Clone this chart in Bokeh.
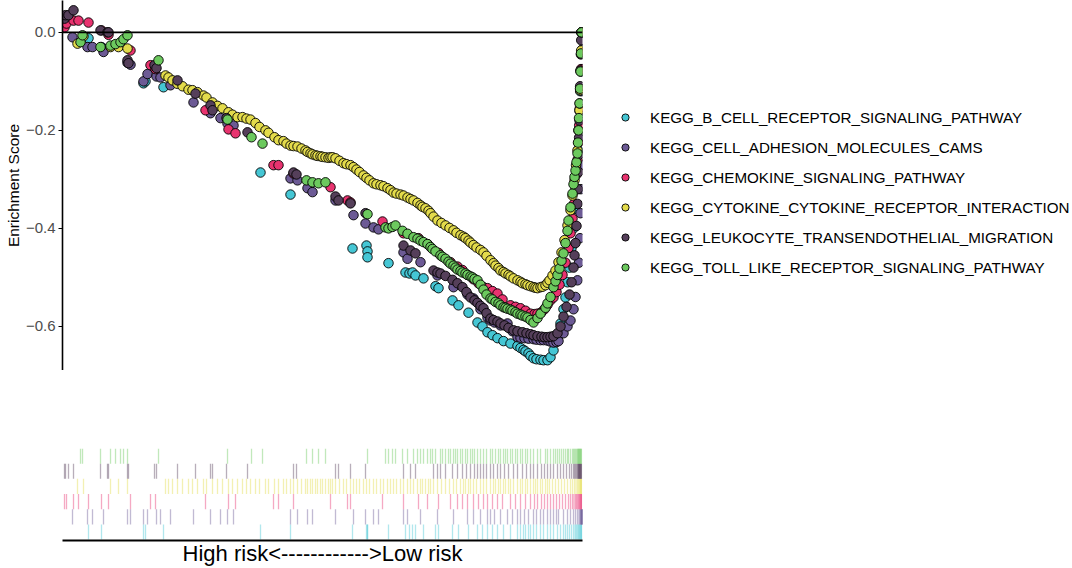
from bokeh.plotting import figure
from bokeh.models import Range1d, Span, Legend, LegendItem, FixedTicker
from bokeh.layouts import column, row
from bokeh.embed import file_html
from bokeh.resources import INLINE

FONT = "Liberation Sans"

pathways = [
    "KEGG_B_CELL_RECEPTOR_SIGNALING_PATHWAY",
    "KEGG_CELL_ADHESION_MOLECULES_CAMS",
    "KEGG_CHEMOKINE_SIGNALING_PATHWAY",
    "KEGG_CYTOKINE_CYTOKINE_RECEPTOR_INTERACTION",
    "KEGG_LEUKOCYTE_TRANSENDOTHELIAL_MIGRATION",
    "KEGG_TOLL_LIKE_RECEPTOR_SIGNALING_PATHWAY",
]
colors = ["#45C6D4", "#6C5A95", "#E8336F", "#E3DB4B", "#553F5A", "#6CC95E"]

# (rank position of hit, running enrichment score)
b_cell = [(26,-0.012),(39,-0.030),(81,-0.104),(83,-0.100),(101,-0.112),(198,-0.286),(228,-0.331),(290,-0.441),(304,-0.435),(305,-0.447),(305,-0.459),(326,-0.471),(343,-0.490),(347,-0.492),(350,-0.490),(353,-0.496),(361,-0.502),(373,-0.518),(376,-0.522),(390,-0.547),(396,-0.557),(406,-0.572),(415,-0.592),(420,-0.600),(425,-0.612),(430,-0.618),(435,-0.624),(441,-0.630),(448,-0.635),(455,-0.640),(458,-0.644),(461,-0.648),(463,-0.651),(466,-0.655),(468,-0.660),(471,-0.665),(474,-0.667),(478,-0.668),(481,-0.669),(485,-0.669),(488,-0.663),(491,-0.649),(495,-0.625),(498,-0.594),(501,-0.565),(503,-0.541),(505,-0.510),(507,-0.480),(509,-0.440),(511,-0.400),(512.5,-0.360),(513.5,-0.320),(514.5,-0.280),(515.5,-0.240),(516.3,-0.200),(517,-0.160),(517.7,-0.120),(518.3,-0.080),(518.8,-0.040),(519.2,0.000)]

cams = [(10,-0.010),(25,-0.030),(30,-0.030),(41,-0.040),(65,-0.062),(68,-0.066),(81,-0.100),(85,-0.085),(94,-0.090),(98,-0.092),(108,-0.108),(131,-0.143),(148,-0.165),(158,-0.175),(165,-0.186),(171,-0.190),(228,-0.298),(235,-0.302),(245,-0.318),(250,-0.326),(273,-0.343),(291,-0.373),(303,-0.390),(311,-0.398),(316,-0.402),(341,-0.449),(345,-0.462),(358,-0.469),(375,-0.496),(391,-0.520),(405,-0.535),(411,-0.543),(418,-0.565),(425,-0.582),(428,-0.588),(432,-0.592),(438,-0.598),(445,-0.594),(450,-0.610),(455,-0.622),(458,-0.623),(462,-0.624),(466,-0.625),(471,-0.626),(474,-0.627),(478,-0.628),(481,-0.628),(485,-0.629),(488,-0.631),(491,-0.633),(494,-0.632),(496,-0.630),(501,-0.614),(505,-0.600),(508,-0.588),(511,-0.565),(513,-0.540),(515,-0.506),(516.5,-0.470),(517.5,-0.420),(518,-0.369),(518.4,-0.320),(518.8,-0.270),(519.2,-0.220),(519.5,-0.170),(519.7,-0.120),(519.8,-0.075),(519.9,-0.035),(520,0.000)]

chemokine = [(2,0.010),(4,0.018),(11,0.024),(16,0.024),(26,0.020),(39,0.004),(46,-0.005),(68,-0.037),(88,-0.067),(93,-0.075),(143,-0.159),(166,-0.198),(173,-0.206),(211,-0.271),(216,-0.271),(231,-0.288),(268,-0.316),(285,-0.343),(288,-0.347),(320,-0.386),(341,-0.410),(356,-0.420),(365,-0.432),(376,-0.450),(388,-0.469),(395,-0.478),(400,-0.485),(405,-0.495),(411,-0.504),(416,-0.512),(421,-0.520),(425,-0.522),(430,-0.528),(435,-0.533),(440,-0.545),(448,-0.557),(453,-0.560),(458,-0.563),(463,-0.568),(468,-0.574),(472,-0.575),(475,-0.574),(479,-0.571),(482,-0.565),(485,-0.556),(488,-0.547),(491,-0.541),(494,-0.530),(497,-0.515),(500,-0.495),(503,-0.470),(506,-0.440),(508,-0.410),(510,-0.380),(511.5,-0.350),(513,-0.320),(514,-0.290),(515,-0.260),(516,-0.225),(516.7,-0.190),(517.3,-0.155),(518,-0.115),(518.5,-0.075),(518.8,-0.040),(519,0.000)]

cytokine = [(15,-0.023),(21,-0.008),(48,-0.030),(56,-0.030),(65,-0.033),(103,-0.088),(106,-0.092),(110,-0.098),(115,-0.105),(120,-0.110),(126,-0.117),(130,-0.118),(135,-0.122),(141,-0.129),(144,-0.133),(150,-0.143),(155,-0.150),(160,-0.155),(166,-0.163),(170,-0.168),(175,-0.173),(180,-0.173),(184,-0.176),(188,-0.178),(193,-0.185),(197,-0.193),(203,-0.200),(206,-0.205),(212,-0.214),(216,-0.220),(221,-0.222),(224,-0.227),(228,-0.231),(231,-0.232),(235,-0.233),(239,-0.237),(243,-0.241),(245,-0.244),(248,-0.247),(250,-0.249),(253,-0.251),(255,-0.252),(258,-0.253),(260,-0.254),(263,-0.255),(266,-0.256),(268,-0.255),(270,-0.255),(273,-0.257),(277,-0.262),(281,-0.267),(284,-0.269),(288,-0.271),(291,-0.275),(294,-0.280),(297,-0.285),(301,-0.292),(304,-0.297),(307,-0.302),(311,-0.308),(314,-0.310),(318,-0.312),(321,-0.314),(325,-0.318),(328,-0.322),(331,-0.327),(334,-0.329),(338,-0.331),(341,-0.333),(345,-0.337),(348,-0.340),(351,-0.343),(355,-0.348),(358,-0.353),(360,-0.356),(363,-0.359),(366,-0.364),(368,-0.369),(371,-0.376),(375,-0.384),(379,-0.389),(383,-0.394),(387,-0.399),(391,-0.404),(394,-0.409),(398,-0.414),(401,-0.417),(403,-0.420),(406,-0.425),(408,-0.429),(411,-0.434),(414,-0.439),(418,-0.444),(421,-0.449),(424,-0.456),(428,-0.465),(431,-0.471),(433,-0.476),(436,-0.481),(438,-0.486),(441,-0.489),(443,-0.492),(446,-0.495),(448,-0.498),(451,-0.502),(455,-0.506),(458,-0.509),(460,-0.512),(463,-0.514),(465,-0.516),(468,-0.518),(471,-0.520),(473,-0.521),(475,-0.522),(478,-0.520),(480,-0.519),(483,-0.516),(485,-0.511),(487,-0.506),(490,-0.496),(493,-0.486),(496,-0.469),(499,-0.449),(502,-0.424),(505,-0.394),(508,-0.363),(510,-0.333),(512,-0.302),(513.5,-0.271),(515,-0.241),(516,-0.200),(517,-0.159),(517.7,-0.118),(518.3,-0.078),(518.7,-0.037),(519,0.000)]

leukocyte = [(2,0.028),(3,0.035),(6,0.035),(11,0.045),(38,0.004),(45,0.000),(46,0.000),(65,-0.057),(66,-0.063),(92,-0.067),(94,-0.073),(115,-0.098),(133,-0.125),(148,-0.149),(150,-0.159),(164,-0.175),(185,-0.204),(231,-0.286),(234,-0.290),(273,-0.335),(276,-0.343),(288,-0.349),(303,-0.369),(341,-0.435),(348,-0.445),(353,-0.451),(371,-0.486),(375,-0.490),(378,-0.492),(383,-0.497),(390,-0.505),(395,-0.512),(400,-0.520),(404,-0.530),(408,-0.541),(412,-0.547),(415,-0.552),(418,-0.558),(421,-0.563),(424,-0.573),(428,-0.584),(431,-0.587),(435,-0.590),(438,-0.594),(442,-0.598),(446,-0.603),(451,-0.608),(455,-0.610),(460,-0.612),(464,-0.614),(468,-0.616),(471,-0.618),(475,-0.620),(479,-0.621),(482,-0.622),(485,-0.622),(488,-0.621),(491,-0.620),(495,-0.614),(498,-0.600),(501,-0.580),(504,-0.560),(507,-0.535),(509,-0.510),(511,-0.480),(512,-0.455),(513,-0.430),(514,-0.395),(515,-0.350),(515.5,-0.320),(516,-0.285),(516.3,-0.250),(516.6,-0.215),(517,-0.180),(517.3,-0.145),(517.6,-0.110),(518,-0.078),(518.4,-0.045),(518.7,-0.016),(519,0.000)]

toll = [(18,-0.020),(20,-0.006),(38,-0.030),(48,-0.027),(53,-0.024),(58,-0.020),(61,-0.014),(65,-0.006),(96,-0.057),(165,-0.178),(189,-0.214),(200,-0.227),(244,-0.302),(250,-0.306),(256,-0.308),(263,-0.306),(305,-0.371),(323,-0.398),(326,-0.400),(330,-0.397),(333,-0.394),(340,-0.405),(345,-0.411),(351,-0.418),(355,-0.421),(358,-0.425),(361,-0.428),(365,-0.432),(368,-0.438),(370,-0.442),(373,-0.447),(378,-0.455),(380,-0.458),(383,-0.462),(386,-0.468),(388,-0.472),(391,-0.476),(393,-0.480),(395,-0.484),(398,-0.487),(400,-0.490),(403,-0.492),(405,-0.495),(408,-0.498),(410,-0.500),(412,-0.503),(415,-0.506),(418,-0.515),(421,-0.525),(424,-0.535),(428,-0.543),(430,-0.545),(433,-0.550),(436,-0.553),(438,-0.557),(441,-0.561),(443,-0.562),(445,-0.564),(448,-0.566),(450,-0.568),(453,-0.571),(455,-0.574),(458,-0.576),(460,-0.578),(463,-0.580),(465,-0.582),(468,-0.587),(471,-0.592),(475,-0.583),(478,-0.574),(483,-0.562),(485,-0.553),(488,-0.540),(491,-0.520),(493,-0.508),(495,-0.495),(497,-0.482),(499,-0.466),(501,-0.451),(503,-0.430),(505,-0.405),(506,-0.384),(508,-0.357),(510,-0.329),(511,-0.310),(512,-0.295),(513,-0.282),(514,-0.265),(515,-0.247),(515.5,-0.225),(516,-0.200),(516.5,-0.175),(517,-0.145),(517.5,-0.115),(518,-0.080),(518.5,-0.043),(519,0.000)]

series = [b_cell, cams, chemokine, cytokine, leukocyte, toll]

y_ticks = [0.0, -0.2, -0.4, -0.6]
y_tick_labels = ["0.0", "\u22120.2", "\u22120.4", "\u22120.6"]
x_label = "High risk<------------>Low risk"
y_label = "Enrichment Score"

x_range = Range1d(0, 520)
LEFT, RIGHT, FRAME_W = 62, 2, 520
FIG_W = LEFT + FRAME_W + RIGHT
TOP_H = 370

DOT = dict(marker="circle", size=9.5, line_color="black", line_width=0.9)

# ---------------- top panel: running enrichment score ----------------
top = figure(width=FIG_W, height=TOP_H, x_range=x_range, y_range=Range1d(-0.690, 0.065),
             output_backend="svg", toolbar_location=None, x_axis_location=None,
             min_border_left=LEFT, min_border_right=RIGHT, min_border_top=0, min_border_bottom=0)
top.outline_line_color = None
top.xgrid.visible = False
top.ygrid.visible = False

ya = top.yaxis[0]
ya.ticker = FixedTicker(ticks=y_ticks)
ya.major_label_overrides = {t: l for t, l in zip(y_ticks, y_tick_labels)}
ya.major_label_text_font = FONT
ya.major_label_text_font_size = "15px"
ya.major_label_text_color = "#4D4D4D"
ya.major_label_standoff = 3
ya.major_tick_out = 4
ya.major_tick_in = 0
ya.minor_tick_out = 0
ya.minor_tick_in = 0
ya.axis_line_width = 1.6
ya.major_tick_line_width = 1.2
ya.axis_label = y_label
ya.axis_label_text_font = FONT
ya.axis_label_text_font_size = "15.5px"
ya.axis_label_text_font_style = "normal"
ya.axis_label_text_color = "black"
ya.axis_label_standoff = 1

top.add_layout(Span(location=0, dimension="width", line_color="black", line_width=1.6))

for data, col in zip(series, colors):
    xs = [p[0] for p in data]
    ys = [p[1] for p in data]
    top.scatter(xs, ys, fill_color=col, **DOT)

# ---------------- bottom panel: hit positions (rug) ----------------
rug = figure(width=FIG_W, height=568 - TOP_H, x_range=x_range, y_range=Range1d(-0.06, 6),
             output_backend="svg", toolbar_location=None, y_axis_location=None,
             min_border_left=LEFT, min_border_right=RIGHT, min_border_top=78, min_border_bottom=0)
rug.outline_line_color = None
rug.xgrid.visible = False
rug.ygrid.visible = False

for i, (data, col) in enumerate(zip(series, colors)):
    xs = [p[0] for p in data]
    rug.segment(x0=xs, y0=[i] * len(xs), x1=xs, y1=[i + 1] * len(xs),
                line_color=col, line_alpha=0.42, line_width=1.3)

xa = rug.xaxis[0]
xa.ticker = FixedTicker(ticks=[])
xa.major_tick_out = 0
xa.major_tick_in = 0
xa.minor_tick_out = 0
xa.minor_tick_in = 0
xa.major_label_standoff = 0
xa.axis_line_width = 2
xa.axis_label = x_label
xa.axis_label_text_font = FONT
xa.axis_label_text_font_size = "22px"
xa.axis_label_text_font_style = "normal"
xa.axis_label_text_color = "black"
xa.axis_label_standoff = 0

# ---------------- legend panel (keys drawn from the same series, kept out of view) ----------------
LEG_W = 1072 - FIG_W
leg = figure(width=LEG_W, height=TOP_H, x_range=Range1d(-2, -1), y_range=Range1d(0, 1),
             output_backend="svg", toolbar_location=None,
             x_axis_location=None, y_axis_location=None,
             min_border_left=0, min_border_right=0, min_border_top=0, min_border_bottom=0)
leg.outline_line_color = None
leg.xgrid.visible = False
leg.ygrid.visible = False

leg_renderers = []
for data, col in zip(series, colors):
    xs = [p[0] for p in data]
    ys = [p[1] for p in data]
    leg_renderers.append(leg.scatter(xs, ys, fill_color=col, **DOT))

legend = Legend(items=[LegendItem(label=n, renderers=[r]) for n, r in zip(pathways, leg_renderers)],
                location=(31, 93), margin=0, padding=10, spacing=10,
                glyph_width=20, glyph_height=18, label_height=20, label_standoff=15,
                label_text_font=FONT, label_text_font_size="15.2px", label_text_color="black",
                border_line_color=None, background_fill_alpha=0)
leg.add_layout(legend)

layout = row(column(top, rug), leg)
open("out.html", "w").write(file_html(layout, INLINE))
